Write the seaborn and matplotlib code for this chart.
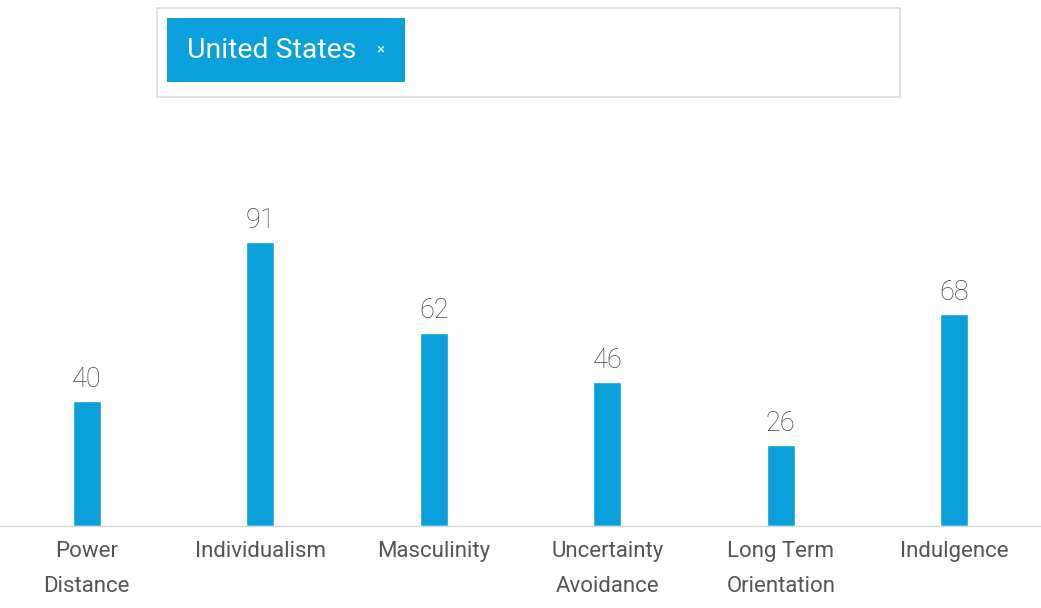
import matplotlib
matplotlib.use('Agg')
import matplotlib.pyplot as plt
import seaborn as sns
from matplotlib.patches import Rectangle

# hofstede dimensions for the selected country
country = 'United States'
dimensions = ['Power\nDistance', 'Individualism', 'Masculinity',
              'Uncertainty\nAvoidance', 'Long Term\nOrientation', 'Indulgence']
scores = [40, 91, 62, 46, 26, 68]

bar_color = '#0aa0dc'

sns.set_theme(style='white')
plt.rcParams['font.family'] = ['Roboto', 'DejaVu Sans']

W, H = 1041, 608
fig = plt.figure(figsize=(W / 100, H / 100), dpi=100)

# chart area: baseline at y=526px, 3.12px per point
ax = fig.add_axes([0, (H - 526) / H, 1, 416 / H])
sns.barplot(x=dimensions, y=scores, color=bar_color, width=0.16,
            saturation=1, ax=ax)
ax.set_ylim(0, 416 / 3.12)
ax.set_xlim(-0.5, len(dimensions) - 0.5)
ax.set_yticks([])
ax.set_ylabel('')
ax.set_xlabel('')
for side in ['top', 'left', 'right']:
    ax.spines[side].set_visible(False)
ax.spines['bottom'].set_color('#d8d8d8')
ax.spines['bottom'].set_linewidth(1)
ax.tick_params(axis='x', length=0, pad=11, labelsize=16, labelcolor='#555555')
for lbl in ax.get_xticklabels():
    lbl.set_linespacing(1.85)
    lbl.set_verticalalignment('top')

ax.bar_label(ax.containers[0], padding=6, fontsize=19.5, color='#444444',
             fontweight='light')

# country selector box on top
fig.patches.append(Rectangle((157 / W, 1 - 97 / H), (900 - 157) / W, (97 - 8) / H,
                             transform=fig.transFigure, facecolor='white',
                             edgecolor='#dcdcdc', linewidth=1.2))
fig.patches.append(Rectangle((167 / W, 1 - 82 / H), (405 - 167) / W, (82 - 18) / H,
                             transform=fig.transFigure, facecolor=bar_color,
                             edgecolor='none'))
fig.text(187 / W, 1 - 51 / H, country, color='white', fontsize=20.5,
         ha='left', va='center')
fig.text(380 / W, 1 - 49 / H, '×', color='white', fontsize=11,
         ha='center', va='center')

plt.savefig('out.png', dpi=100)
plt.close()
